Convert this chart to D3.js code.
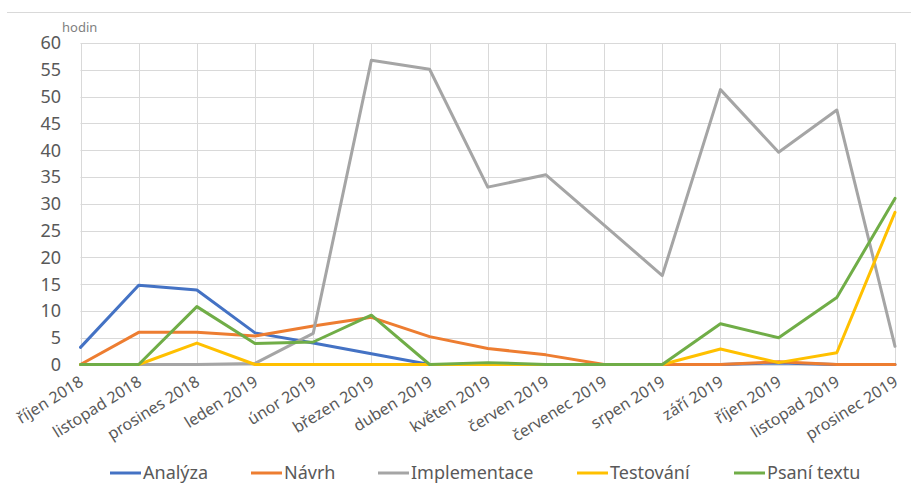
<!DOCTYPE html>
<html><head><meta charset="utf-8">
<script src="https://cdn.jsdelivr.net/npm/d3@7"></script>
<style>body{margin:0;background:#fff}svg{display:block}text{font-family:"Noto Sans",sans-serif}</style>
</head><body><svg id="c" width="911" height="487"></svg>
<script>
const months = ["říjen 2018","listopad 2018","prosines 2018","leden 2019","únor 2019","březen 2019","duben 2019","květen 2019","červen 2019","červenec 2019","srpen 2019","září 2019","říjen 2019","listopad 2019","prosinec 2019"];
const seriesNames = ["Analýza","Návrh","Implementace","Testování","Psaní textu"];
const seriesColors = ["#4472C4","#ED7D31","#A5A5A5","#FFC000","#70AD47"];
const analyza =      [3.2,14.8,13.9,5.9,4.0,2.0,0,0,0,0,0,0,0.3,0,0];
const navrh =        [0,6.0,6.0,5.3,7.2,8.8,5.2,3.0,1.8,0,0,0,0.5,0,0];
const implementace = [0,0,0,0.2,5.8,56.8,55.1,33.1,35.4,26.0,16.6,51.3,39.6,47.5,3.4];
const testovani =    [0,0,4.0,0,0,0,0,0,0,0,0,2.9,0.35,2.2,28.4];
const psani =        [0,0,10.8,3.9,4.2,9.2,0,0.35,0,0,0,7.6,5.0,12.5,31.0];
const yTicks = [0,5,10,15,20,25,30,35,40,45,50,55,60];
const allSeries = [analyza,navrh,implementace,testovani,psani];

const svg = d3.select("#c");
const x = d3.scalePoint().domain(months).range([80.5,895]);
const y = d3.scaleLinear().domain([0,60]).range([364.5,43]);

svg.append("line").attr("x1",7).attr("x2",911).attr("y1",12.5).attr("y2",12.5).attr("stroke","#d9d9d9").attr("stroke-width",1);

// gridlines
svg.append("g").selectAll("line").data(yTicks).join("line")
  .attr("x1",80.5).attr("x2",895).attr("y1",d=>Math.round(y(d))+0.5).attr("y2",d=>Math.round(y(d))+0.5)
  .attr("stroke","#d9d9d9").attr("stroke-width",1);
svg.append("g").selectAll("line").data(months).join("line")
  .attr("x1",d=>Math.round(x(d))+0.5).attr("x2",d=>Math.round(x(d))+0.5).attr("y1",43).attr("y2",364.5)
  .attr("stroke","#d9d9d9").attr("stroke-width",1);

// y axis labels
svg.append("g").selectAll("text").data(yTicks).join("text")
  .attr("x",61).attr("y",d=>y(d)).attr("dy","0.36em").attr("text-anchor","end")
  .attr("font-size",18).attr("fill","#595959").text(d=>d);
svg.append("text").attr("x",62).attr("y",32).attr("font-size",13).attr("fill","#7f7f7f").text("hodin");

// x labels
svg.append("g").selectAll("text").data(months).join("text")
  .attr("transform",d=>`translate(${x(d)+1},${380}) rotate(-32)`)
  .attr("text-anchor","end").attr("dy","0.35em")
  .attr("font-size",16).attr("fill","#595959").text(d=>d);

// lines
const line = d3.line().x((d,i)=>x(months[i])).y(d=>y(d));
svg.append("g").selectAll("path").data(allSeries).join("path")
  .attr("d",d=>line(d)).attr("fill","none")
  .attr("stroke",(d,i)=>seriesColors[i]).attr("stroke-width",3)
  .attr("stroke-linejoin","round").attr("stroke-linecap","round");

// legend
const legX = [110,251,378,577,734];
const lg = svg.append("g").selectAll("g").data(seriesNames).join("g")
  .attr("transform",(d,i)=>`translate(${legX[i]},473)`);
lg.append("line").attr("x1",0).attr("x2",31).attr("stroke",(d,i)=>seriesColors[i]).attr("stroke-width",3);
lg.append("text").attr("x",33).attr("dy","0.36em").attr("font-size",18).attr("fill","#595959").text(d=>d);
</script></body></html>
